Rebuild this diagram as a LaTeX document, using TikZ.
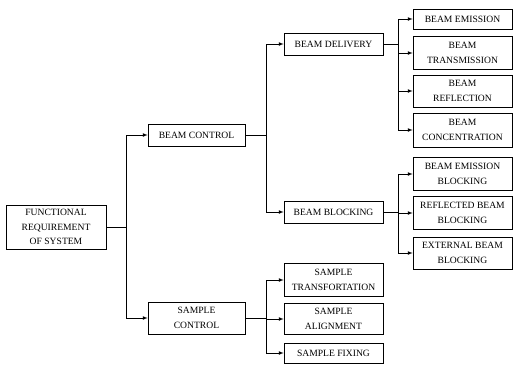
\documentclass[tikz,border=0pt]{standalone}
\usepackage{fontspec}
\setmainfont{Liberation Serif}
\usetikzlibrary{arrows}
\tikzset{
  blk/.style={draw, line width=0.6pt, inner sep=0pt, align=center, fill=white,
    font=\fontsize{9.6}{14.5}\selectfont, minimum width=99pt},
  arr/.style={-latex, line width=0.7pt},
}
\begin{document}
\begin{tikzpicture}[x=1pt,y=-1pt]
 \useasboundingbox (0,0) rectangle (516,370);

 %column x positions
 \def\xa{56}
 \def\xb{196.5}
 \def\xc{333.5}
 \def\xd{462.5}

 %level 1
 \node[blk, minimum width=100pt, minimum height=44pt] (fr) at (\xa,227) {FUNCTIONAL\\REQUIREMENT\\OF SYSTEM};

 %level 2
 \node[blk, minimum width=97pt, minimum height=22pt] (bctl) at (\xb,135) {BEAM CONTROL};
 \node[blk, minimum width=97pt, minimum height=32pt] (sctl) at (\xb,318) {SAMPLE\\CONTROL};

 \coordinate (j1) at (126,0);
 \draw[arr] (fr.east) -- (fr.east -| j1) |- (bctl.west);
 \draw[arr] (fr.east) -- (fr.east -| j1) |- (sctl.west);

 %level 3
 \coordinate (j2) at (266,0);
 \node[blk, minimum height=22pt] (bdel) at (\xc,44) {BEAM DELIVERY};
 \node[blk, minimum height=22pt] (bblk) at (\xc,212) {BEAM BLOCKING};
 \draw[arr] (bctl.east) -- (bctl.east -| j2) |- (bdel.west);
 \draw[arr] (bctl.east) -- (bctl.east -| j2) |- (bblk.west);

 \foreach \nm/\yy/\hh/\txt in {st/280/33/{SAMPLE\\TRANSFORTATION}, sa/319/31/{SAMPLE\\ALIGNMENT}, sf/353/20/{SAMPLE FIXING}} {
         \node[blk, minimum height=\hh pt] (\nm) at (\xc,\yy) {\txt};
         \draw[arr] (sctl.east) -- (sctl.east -| j2) |- (\nm.west);
 }

 %level 4
 \coordinate (j3) at (398,0);
 \foreach \nm/\yy/\hh/\txt in {be/19/20/{BEAM EMISSION}, bt/53/33/{BEAM\\TRANSMISSION}, br/91/32/{BEAM\\REFLECTION}, bc/130/34/{BEAM\\CONCENTRATION}} {
         \node[blk, minimum height=\hh pt] (\nm) at (\xd,\yy) {\txt};
         \draw[arr] (bdel.east) -- (bdel.east -| j3) |- (\nm.west);
 }

 \foreach \nm/\yy/\hh/\txt in {beb/174/33/{BEAM EMISSION\\BLOCKING}, rbb/213/33/{REFLECTED BEAM\\BLOCKING}, ebb/253/32/{EXTERNAL BEAM\\BLOCKING}} {
         \node[blk, minimum height=\hh pt] (\nm) at (\xd,\yy) {\txt};
         \draw[arr] (bblk.east) -- (bblk.east -| j3) |- (\nm.west);
 }

\end{tikzpicture}
\end{document}
